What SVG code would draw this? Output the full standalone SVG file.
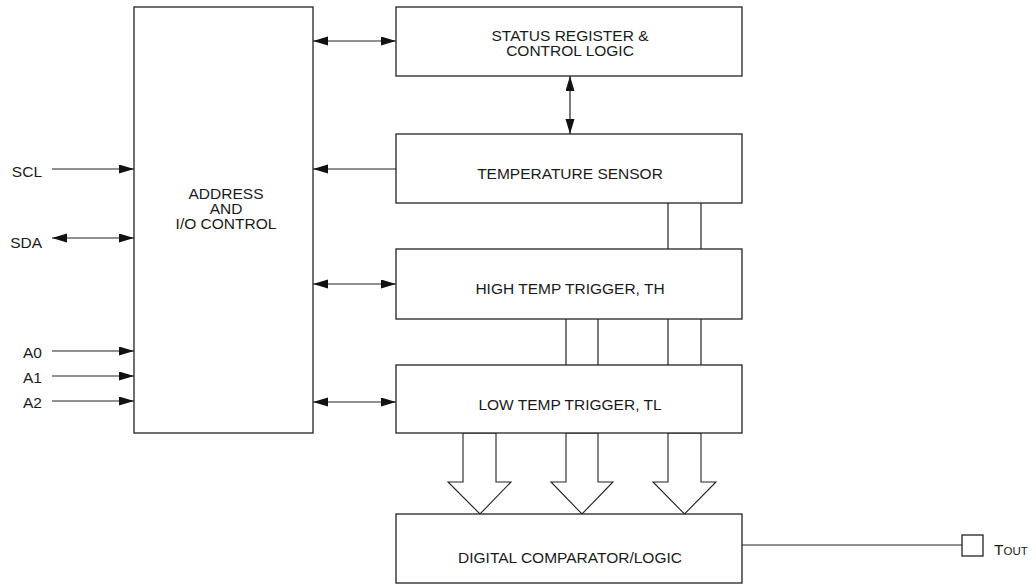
<svg xmlns="http://www.w3.org/2000/svg" width="1036" height="585" viewBox="0 0 1036 585">
<defs>
<style>
.box{fill:#fff;stroke:#222;stroke-width:1.3}
.ln{fill:none;stroke:#222;stroke-width:1.2}
.bus{fill:#fff;stroke:#222;stroke-width:1.1}
text{font-family:"Liberation Sans",Arial,sans-serif;font-size:15.5px;fill:#1a1a1a}
.c{text-anchor:middle}
.r{text-anchor:end}
</style>
<marker id="ah" markerUnits="userSpaceOnUse" markerWidth="16" markerHeight="10" refX="15" refY="4.5" orient="auto-start-reverse" viewBox="0 0 16 10">
<path d="M0,0 L15,4.5 L0,9 z" fill="#111"/>
</marker>
</defs>
<rect width="1036" height="585" fill="#fff"/>

<g id="connectors">
<line class="ln" x1="52" y1="169" x2="134" y2="169" marker-end="url(#ah)"/>
<line class="ln" x1="52" y1="238" x2="134" y2="238" marker-start="url(#ah)" marker-end="url(#ah)"/>
<line class="ln" x1="52" y1="351" x2="134" y2="351" marker-end="url(#ah)"/>
<line class="ln" x1="52" y1="376" x2="134" y2="376" marker-end="url(#ah)"/>
<line class="ln" x1="52" y1="401" x2="134" y2="401" marker-end="url(#ah)"/>
<line class="ln" x1="313" y1="41" x2="396" y2="41" marker-start="url(#ah)" marker-end="url(#ah)"/>
<line class="ln" x1="570" y1="76" x2="570" y2="134" marker-start="url(#ah)" marker-end="url(#ah)"/>
<line class="ln" x1="396" y1="169" x2="313" y2="169" marker-end="url(#ah)"/>
<line class="ln" x1="313" y1="284" x2="396" y2="284" marker-start="url(#ah)" marker-end="url(#ah)"/>
<line class="ln" x1="313" y1="402" x2="396" y2="402" marker-start="url(#ah)" marker-end="url(#ah)"/>
<line class="ln" x1="668" y1="203" x2="668" y2="249"/>
<line class="ln" x1="701" y1="203" x2="701" y2="249"/>
<line class="ln" x1="566" y1="319" x2="566" y2="365"/>
<line class="ln" x1="598" y1="319" x2="598" y2="365"/>
<line class="ln" x1="668" y1="319" x2="668" y2="365"/>
<line class="ln" x1="701" y1="319" x2="701" y2="365"/>
<polygon class="bus" points="463,433 463,482 448,482 480,514 511,482 496,482 496,433"/>
<polygon class="bus" points="566,433 566,482 551,482 582,514 613,482 598,482 598,433"/>
<polygon class="bus" points="668,433 668,482 653,482 684.5,514 716,482 701,482 701,433"/>
<line class="ln" x1="742" y1="545" x2="962" y2="545"/>
</g>

<g id="labels">
<text class="r" x="42" y="177">SCL</text>
<text class="r" x="42" y="248">SDA</text>
<text class="r" x="42" y="358">A0</text>
<text class="r" x="42" y="383">A1</text>
<text class="r" x="42" y="408">A2</text>
</g>

<g id="address">
<rect class="box" x="134" y="7" width="179" height="426"/>
<text class="c" x="226" y="199">ADDRESS</text>
<text class="c" x="226" y="214">AND</text>
<text class="c" x="226" y="229">I/O CONTROL</text>
</g>

<g id="status">
<rect class="box" x="396" y="7" width="346" height="69"/>
<text class="c" x="570" y="41">STATUS REGISTER &amp;</text>
<text class="c" x="570" y="56">CONTROL LOGIC</text>
</g>

<g id="tempsensor">
<rect class="box" x="396" y="134" width="346" height="69"/>
<text class="c" x="570" y="179">TEMPERATURE SENSOR</text>
</g>

<g id="hightemp">
<rect class="box" x="396" y="249" width="346" height="70"/>
<text class="c" x="570" y="294">HIGH TEMP TRIGGER, TH</text>
</g>

<g id="lowtemp">
<rect class="box" x="396" y="365" width="346" height="68"/>
<text class="c" x="570" y="410">LOW TEMP TRIGGER, TL</text>
</g>

<g id="comparator">
<rect class="box" x="396" y="514" width="346" height="69"/>
<text class="c" x="570" y="563">DIGITAL COMPARATOR/LOGIC</text>
</g>

<g id="tout">
<rect class="box" x="962" y="535" width="21" height="21"/>
<text x="994" y="555">T<tspan font-size="11.5">OUT</tspan></text>
</g>
</svg>
